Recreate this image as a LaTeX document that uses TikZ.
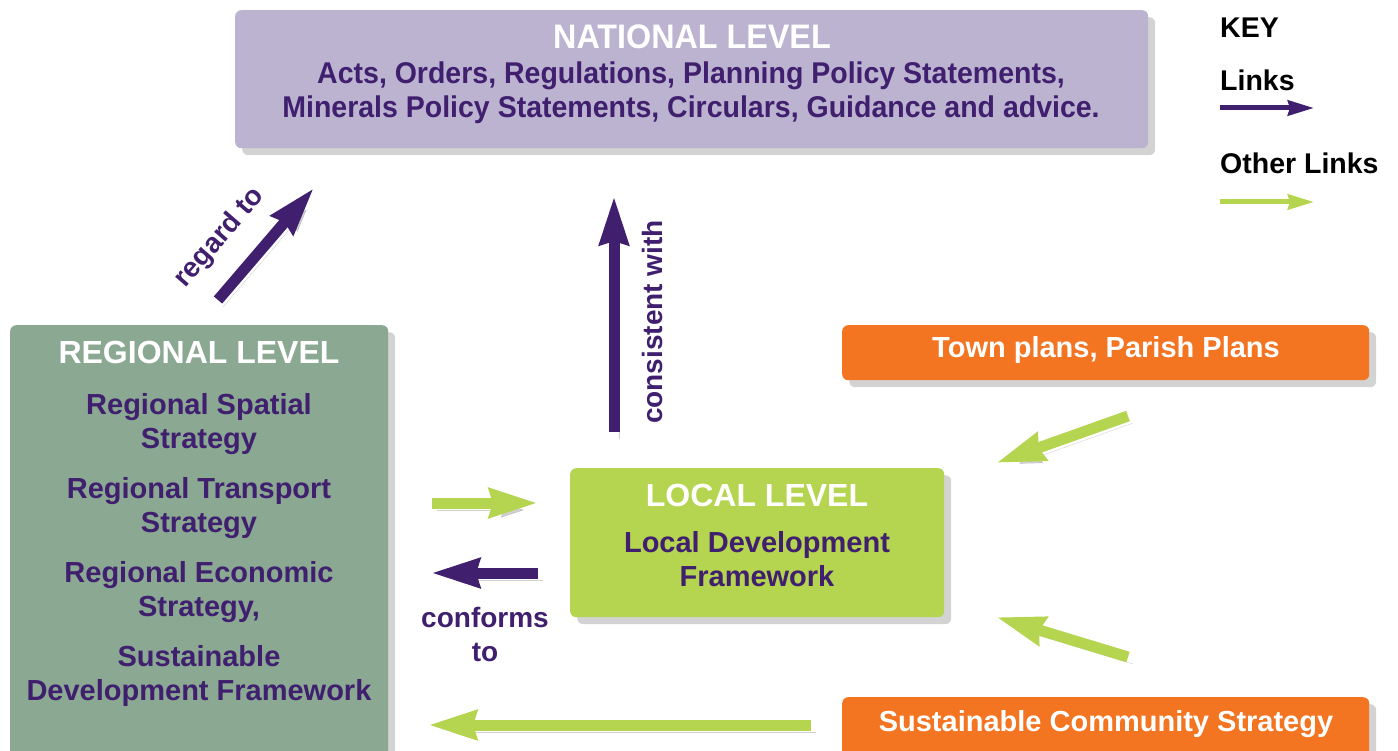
\documentclass[tikz,border=0pt]{standalone}
\usepackage{fontspec}
\setmainfont{Liberation Sans}
\newfontfamily\narrowfont[FakeStretch=0.95]{Liberation Sans}
\usetikzlibrary{arrows.meta, shadows, positioning}

\definecolor{natfill}{HTML}{BCB3D1}
\definecolor{regfill}{HTML}{8AA892}
\definecolor{locfill}{HTML}{B5D44F}
\definecolor{orangefill}{HTML}{F37421}
\definecolor{plumtext}{HTML}{3F1F6E}
\definecolor{greenlink}{HTML}{B5D44F}

\tikzset{
  levelbox/.style={rounded corners=6pt, inner sep=0pt, anchor=north west,
    drop shadow={shadow xshift=7pt, shadow yshift=-7pt, opacity=0.35}},
  titletext/.style={text=white, font=\fontsize{32}{36}\selectfont\bfseries},
  bodytext/.style={text=plumtext, align=center, font=\fontsize{29}{34}\selectfont\bfseries},
  keytext/.style={text=black, anchor=west, inner sep=0pt, font=\fontsize{28.5}{32}\selectfont\bfseries},
  linklabel/.style={text=plumtext, align=center, inner sep=0pt, font=\fontsize{28}{34}\selectfont\bfseries},
  bigarrow/.style={line width=11pt, -{Stealth[length=48pt, width=28pt, inset=3pt]},
    preaction={draw=black, opacity=0.18, transform canvas={xshift=5pt, yshift=-7pt}}},
  keyarrow/.style={line width=5pt, -{Stealth[length=26pt, width=15pt, inset=2pt]}},
  mainlink/.style={draw=plumtext},
  otherlink/.style={draw=greenlink}
}

\begin{document}
\begin{tikzpicture}[x=1pt, y=-1pt]
    \useasboundingbox (0,0) rectangle (1398,751);

    % Cajas de los niveles
    \node[levelbox, fill=natfill, minimum width=913pt, minimum height=138pt] (national) at (235,10) {};
    \node[levelbox, fill=regfill, minimum width=378pt, minimum height=440pt] (regional) at (10,325) {};
    \node[levelbox, fill=locfill, minimum width=374pt, minimum height=149pt] (local) at (570,468) {};
    \node[levelbox, fill=orangefill, minimum width=527pt, minimum height=55pt] (town) at (842,325) {};
    \node[levelbox, fill=orangefill, minimum width=527pt, minimum height=60pt] (community) at (842,697) {};

    % Textos de las cajas
    \node[titletext, font=\fontsize{34}{36}\selectfont\bfseries] (nattitle) at (692,37) {\narrowfont NATIONAL LEVEL};
    \node[bodytext, font=\fontsize{30}{34}\selectfont\bfseries] (natbody) at (691,93) {\narrowfont Acts, Orders, Regulations, Planning Policy Statements,\\
      \narrowfont Minerals Policy Statements, Circulars, Guidance and advice.};
    \node[titletext] (regtitle) at (199,352) {REGIONAL LEVEL};
    \node[bodytext] (regbody) at (199,550) {Regional Spatial\\ Strategy\\[16pt]
      Regional Transport\\ Strategy\\[16pt]
      Regional Economic\\ Strategy,\\[16pt]
      Sustainable\\ Development Framework};
    \node[titletext] (loctitle) at (757,495) {LOCAL LEVEL};
    \node[bodytext] (locbody) at (757,559) {Local Development\\ Framework};
    \node[titletext, font=\fontsize{29}{32}\selectfont\bfseries] (towntext) at (1106,350) {Town plans, Parish Plans};
    \node[titletext, font=\fontsize{29}{32}\selectfont\bfseries] (commtext) at (1106,724) {Sustainable Community Strategy};

    % Clave
    \node[keytext] (keyhead) at (1220,28) {KEY};
    \node[keytext] (keylinks) at (1220,80) {Links};
    \node[keytext] (keyother) at (1220,163) {Other Links};
    \coordinate (keyA) at (1220,108);
    \coordinate (keyB) at (1314,108);
    \coordinate (keyC) at (1220,202);
    \coordinate (keyD) at (1314,202);
    \draw[keyarrow, mainlink] (keyA) -- (keyB);
    \draw[keyarrow, otherlink] (keyC) -- (keyD);

    % Extremos de las flechas
    \coordinate (regardS) at (218,300);
    \coordinate (regardE) at (314,188);
    \coordinate (consS) at (614,432);
    \coordinate (consE) at (614,196);
    \coordinate (toLocS) at (432,503);
    \coordinate (toLocE) at (538,503);
    \coordinate (toRegS) at (538,573);
    \coordinate (toRegE) at (431,573);
    \coordinate (townS) at (1128,416);
    \coordinate (townE) at (996,463);
    \coordinate (commS) at (1128,657);
    \coordinate (commE) at (996,617);
    \coordinate (bottomS) at (811,725);
    \coordinate (bottomE) at (428,725);

    % Enlaces principales
    \draw[bigarrow, mainlink] (regardS) -- (regardE);
    \draw[bigarrow, mainlink] (consS) -- (consE);
    \draw[bigarrow, mainlink] (toRegS) -- (toRegE);

    % Otros enlaces
    \draw[bigarrow, otherlink] (toLocS) -- (toLocE);
    \draw[bigarrow, otherlink] (townS) -- (townE);
    \draw[bigarrow, otherlink] (commS) -- (commE);
    \draw[bigarrow, otherlink] (bottomS) -- (bottomE);

    % Etiquetas de los enlaces
    \node[linklabel, rotate=49] (regardlbl) at (220,238) {regard to};
    \node[linklabel, rotate=90] (conslbl) at (652,322) {consistent with};
    \node[linklabel] (conformlbl) at (485,634) {conforms\\ to};
\end{tikzpicture}
\end{document}
